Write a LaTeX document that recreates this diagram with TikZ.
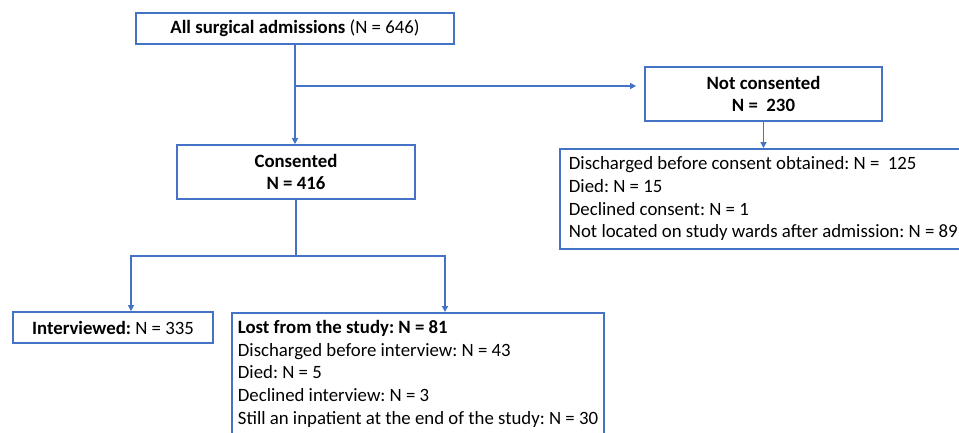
\documentclass[tikz,border=0pt]{standalone}
\usepackage{fontspec}
\setmainfont{Carlito}
\usetikzlibrary{arrows.meta}
\definecolor{flowblue}{HTML}{4472C4}
\frenchspacing
\tikzset{
  box/.style={draw=flowblue, line width=1.8pt, inner sep=0pt, align=center},
  listbox/.style={draw=flowblue, line width=1.8pt, inner ysep=0pt, align=left, anchor=north west},
  link/.style={draw=flowblue, line width=1.8pt},
  arr/.style={link, -{Triangle[width=6pt,length=6pt]}}
}
\begin{document}
\begin{tikzpicture}[x=1pt,y=-1pt,font=\fontsize{18.8}{22.7}\selectfont]
  \clip (0,0) rectangle (959,432);

  % boxes
  \node[box, minimum width=318pt, minimum height=31pt] (all) at (295,28.5)
     {\textbf{All surgical admissions} (N = 646)};
  \node[box, minimum width=237pt, minimum height=54pt] (notc) at (763.5,94)
     {\textbf{Not consented}\\\textbf{N = \ 230}};
  \node[box, minimum width=238pt, minimum height=54pt] (cons) at (296,172)
     {\textbf{Consented}\\\textbf{N = 416}};
  \node[listbox, inner xsep=9pt, minimum height=100pt] (disc) at (559,148)
     {Discharged before consent obtained: N = \ 125\\
      Died: N = 15\\
      Declined consent: N = 1\\
      Not located on study wards after admission: N = 89};
  \node[box, minimum width=200pt, minimum height=31pt] (interv) at (113,327.5)
     {\textbf{Interviewed:} N = 335};
  \node[listbox, inner xsep=6pt, minimum height=122pt] (lost) at (231,312)
     {\textbf{Lost from the study: N = 81}\\
      Discharged before interview: N = 43\\
      Died: N = 5\\
      Declined interview: N = 3\\
      Still an inpatient at the end of the study: N = 30};

  % connectors
  \coordinate (split) at (all.south |- 0,86);
  \coordinate (fork) at (cons.south |- 0,256);
  \draw[arr] (all.south) -- (all.south |- cons.north);
  \draw[arr] (split) -- ([xshift=-8pt]split -| notc.west);
  \draw[arr] (notc.south) -- (notc.south |- disc.north);
  \draw[link] (cons.south) -- (fork);
  \draw[arr] (fork) -| ([xshift=18pt]interv.north);
  \draw[arr] (fork) -| (445,0 |- lost.north);
\end{tikzpicture}
\end{document}
